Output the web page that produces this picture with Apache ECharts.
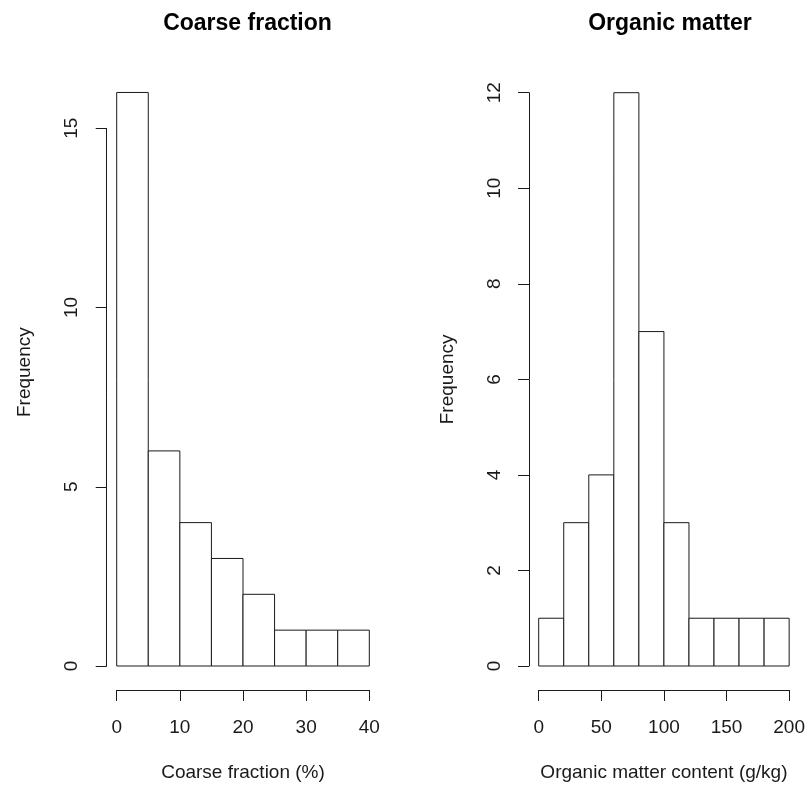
<!DOCTYPE html>
<html>
<head>
<meta charset="utf-8">
<script src="https://cdn.jsdelivr.net/npm/echarts@6/dist/echarts.min.js"></script>
<style>html,body{margin:0;padding:0;background:#fff}#c{width:808px;height:787px}</style>
</head>
<body>
<div id="c"></div>
<script>
// Coarse fraction histogram (bin edges in %, counts)
var coarseBreaks = [0, 5, 10, 15, 20, 25, 30, 35, 40];
var coarseCounts = [16, 6, 4, 3, 2, 1, 1, 1];
// Organic matter histogram (bin edges in g/kg, counts)
var omBreaks = [0, 20, 40, 60, 80, 100, 120, 140, 160, 180, 200];
var omCounts = [1, 3, 4, 12, 7, 3, 1, 1, 1, 1];
// Titles / axis labels
var titles = ['Coarse fraction', 'Organic matter'];
var xNames = ['Coarse fraction (%)', 'Organic matter content (g/kg)'];
var yName = 'Frequency';

function bins(breaks, counts) {
  var out = [];
  for (var i = 0; i < counts.length; i++) out.push([breaks[i], breaks[i + 1], counts[i]]);
  return out;
}

var FONT = '"Liberation Sans", Arial, sans-serif';
var INK = '#1a1a1a';

function renderBar(params, api) {
  var p0 = api.coord([api.value(0), api.value(2)]);
  var p1 = api.coord([api.value(1), 0]);
  return {
    type: 'rect',
    shape: { x: p0[0], y: p0[1], width: p1[0] - p0[0], height: p1[1] - p0[1] },
    style: { fill: '#fff', stroke: INK, lineWidth: 1 }
  };
}

function xAxis(idx, max, interval, name) {
  return {
    type: 'value', gridIndex: idx, min: 0, max: max, interval: interval,
    position: 'bottom', offset: 24,
    name: name, nameLocation: 'middle', nameGap: 73,
    nameTextStyle: { fontFamily: FONT, fontSize: 19, color: INK },
    axisLine: { show: true, onZero: false, lineStyle: { color: INK, width: 1 } },
    axisTick: { show: true, length: 11, lineStyle: { color: INK, width: 1 } },
    axisLabel: { fontFamily: FONT, fontSize: 19, color: INK, margin: 28 },
    splitLine: { show: false }
  };
}
function yAxis(idx, max, interval, offset, namePad) {
  return {
    type: 'value', gridIndex: idx, min: 0, max: max, interval: interval,
    position: 'left', offset: offset,
    name: yName, nameLocation: 'middle', nameGap: 72, nameRotate: 90,
    nameTextStyle: { fontFamily: FONT, fontSize: 19, color: INK, padding: namePad },
    axisLine: { show: true, onZero: false, lineStyle: { color: INK, width: 1 } },
    axisTick: { show: true, length: 11, lineStyle: { color: INK, width: 1 } },
    axisLabel: { fontFamily: FONT, fontSize: 19, color: INK, rotate: 90, margin: 25 },
    splitLine: { show: false }
  };
}

var chart = echarts.init(document.getElementById('c'), null, { renderer: 'canvas' });
chart.setOption({
  animation: false,
  backgroundColor: '#fff',
  title: [
    { text: titles[0], left: 242.5, top: 7, textAlign: 'center',
      textStyle: { fontFamily: FONT, fontSize: 23, fontWeight: 'bold', color: '#000' } },
    { text: titles[1], left: 665, top: 7, textAlign: 'center',
      textStyle: { fontFamily: FONT, fontSize: 23, fontWeight: 'bold', color: '#000' } }
  ],
  grid: [
    { left: 116.7, right: 438.7, top: 128.3, bottom: 120.3 },
    { left: 538.7, right: 17, top: 92.7, bottom: 120.3 }
  ],
  xAxis: [xAxis(0, 40, 10, xNames[0]), xAxis(1, 200, 50, xNames[1])],
  yAxis: [yAxis(0, 15, 5, 10, [0, 0, 0, 50]), yAxis(1, 12, 2, 9.7, 0)],
  series: [
    { type: 'custom', xAxisIndex: 0, yAxisIndex: 0, clip: false,
      data: bins(coarseBreaks, coarseCounts), renderItem: renderBar,
      encode: { x: [0, 1], y: 2 } },
    { type: 'custom', xAxisIndex: 1, yAxisIndex: 1, clip: false,
      data: bins(omBreaks, omCounts), renderItem: renderBar,
      encode: { x: [0, 1], y: 2 } }
  ]
});
</script>
</body>
</html>
